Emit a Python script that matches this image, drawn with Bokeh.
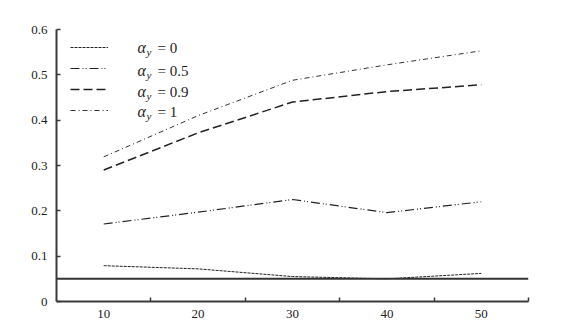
from bokeh.plotting import figure
from bokeh.models import (FixedTicker, Range1d, Legend, LegendItem, Label, Span)
from bokeh.embed import file_html
from bokeh.resources import INLINE

# ---- data ----
x_values = [10, 20, 30, 40, 50]
x_tick_labels = ["10", "20", "30", "40", "50"]
alpha_labels = ["0", "0.5", "0.9", "1"]
series_a0 = [0.079, 0.072, 0.055, 0.050, 0.062]
series_a05 = [0.171, 0.197, 0.225, 0.196, 0.220]
series_a09 = [0.290, 0.372, 0.440, 0.463, 0.478]
series_a1 = [0.319, 0.410, 0.488, 0.522, 0.553]
reference_level = 0.05
y_ticks = [0, 0.1, 0.2, 0.3, 0.4, 0.5, 0.6]
y_tick_labels = {0: "0", 0.1: "0.1", 0.2: "0.2", 0.3: "0.3", 0.4: "0.4", 0.5: "0.5", 0.6: "0.6"}

FONT = "Liberation Serif"
AX = "#3a3a3a"

p = figure(width=565, height=318, output_backend="svg", toolbar_location=None,
           x_range=Range1d(5, 55), y_range=Range1d(0, 0.6),
           min_border_left=56, min_border_top=29, min_border_right=37,
           min_border_bottom=17)
p.frame_width = 472
p.frame_height = 272
p.outline_line_color = None
p.grid.visible = False
p.background_fill_color = "white"

# x axis
xa = p.xaxis[0]
xa.ticker = FixedTicker(ticks=x_values, minor_ticks=[15, 25, 35, 45, 55])
xa.major_label_overrides = {v: s for v, s in zip(x_values, x_tick_labels)}
xa.major_tick_in = 0
xa.major_tick_out = 0
xa.minor_tick_in = 4
xa.minor_tick_out = 0
xa.minor_tick_line_color = AX
xa.minor_tick_line_width = 1.5
xa.axis_line_color = AX
xa.axis_line_width = 2
xa.major_label_text_font = FONT
xa.major_label_text_font_size = "13px"
xa.major_label_text_color = "#222"
xa.major_label_standoff = 8

# y axis
ya = p.yaxis[0]
ya.ticker = FixedTicker(ticks=y_ticks, minor_ticks=[])
ya.major_label_overrides = y_tick_labels
ya.major_tick_in = 4
ya.major_tick_out = 0
ya.major_tick_line_color = AX
ya.major_tick_line_width = 1.5
ya.axis_line_color = AX
ya.axis_line_width = 2
ya.major_label_text_font = FONT
ya.major_label_text_font_size = "13px"
ya.major_label_text_color = "#222"
ya.major_label_standoff = 9

# reference horizontal line
p.add_layout(Span(location=reference_level, dimension="width",
                  line_color="#333", line_width=2))

styles = [
    dict(line_dash="3 1", line_width=1, line_color="#222"),
    dict(line_dash="9 3 1 2 1 3", line_width=1.2, line_color="#222"),
    dict(line_dash="9 4", line_width=1.5, line_color="#222"),
    dict(line_dash="5 3 1 3", line_width=1, line_color="#333"),
]
series = [series_a0, series_a05, series_a09, series_a1]
renderers = []
for ys, st in zip(series, styles):
    r = p.line(x_values, ys, **st)
    renderers.append(r)

legend = Legend(items=[LegendItem(label=" ", renderers=[r]) for r in renderers],
                location=(14, 184), glyph_width=38, glyph_height=14,
                spacing=7, label_width=1, label_height=14,
                padding=0, margin=0, border_line_color=None,
                background_fill_alpha=0, label_text_font_size="6px")
p.add_layout(legend)

# legend texts with subscript y (screen units, measured from frame bottom)
row_ys = [254, 231, 210, 190]
for lab, ty in zip(alpha_labels, row_ys):
    p.add_layout(Label(x=81, y=ty, x_units="screen", y_units="screen", text="α",
                       text_font=FONT, text_font_style="italic", text_font_size="16px",
                       text_color="#222", text_baseline="middle"))
    p.add_layout(Label(x=90, y=ty - 4, x_units="screen", y_units="screen", text="y",
                       text_font=FONT, text_font_style="italic", text_font_size="11px",
                       text_color="#222", text_baseline="middle"))
    p.add_layout(Label(x=101, y=ty, x_units="screen", y_units="screen", text="= " + lab,
                       text_font=FONT, text_font_size="15px",
                       text_color="#222", text_baseline="middle"))

open("out.html", "w").write(file_html(p, INLINE))
